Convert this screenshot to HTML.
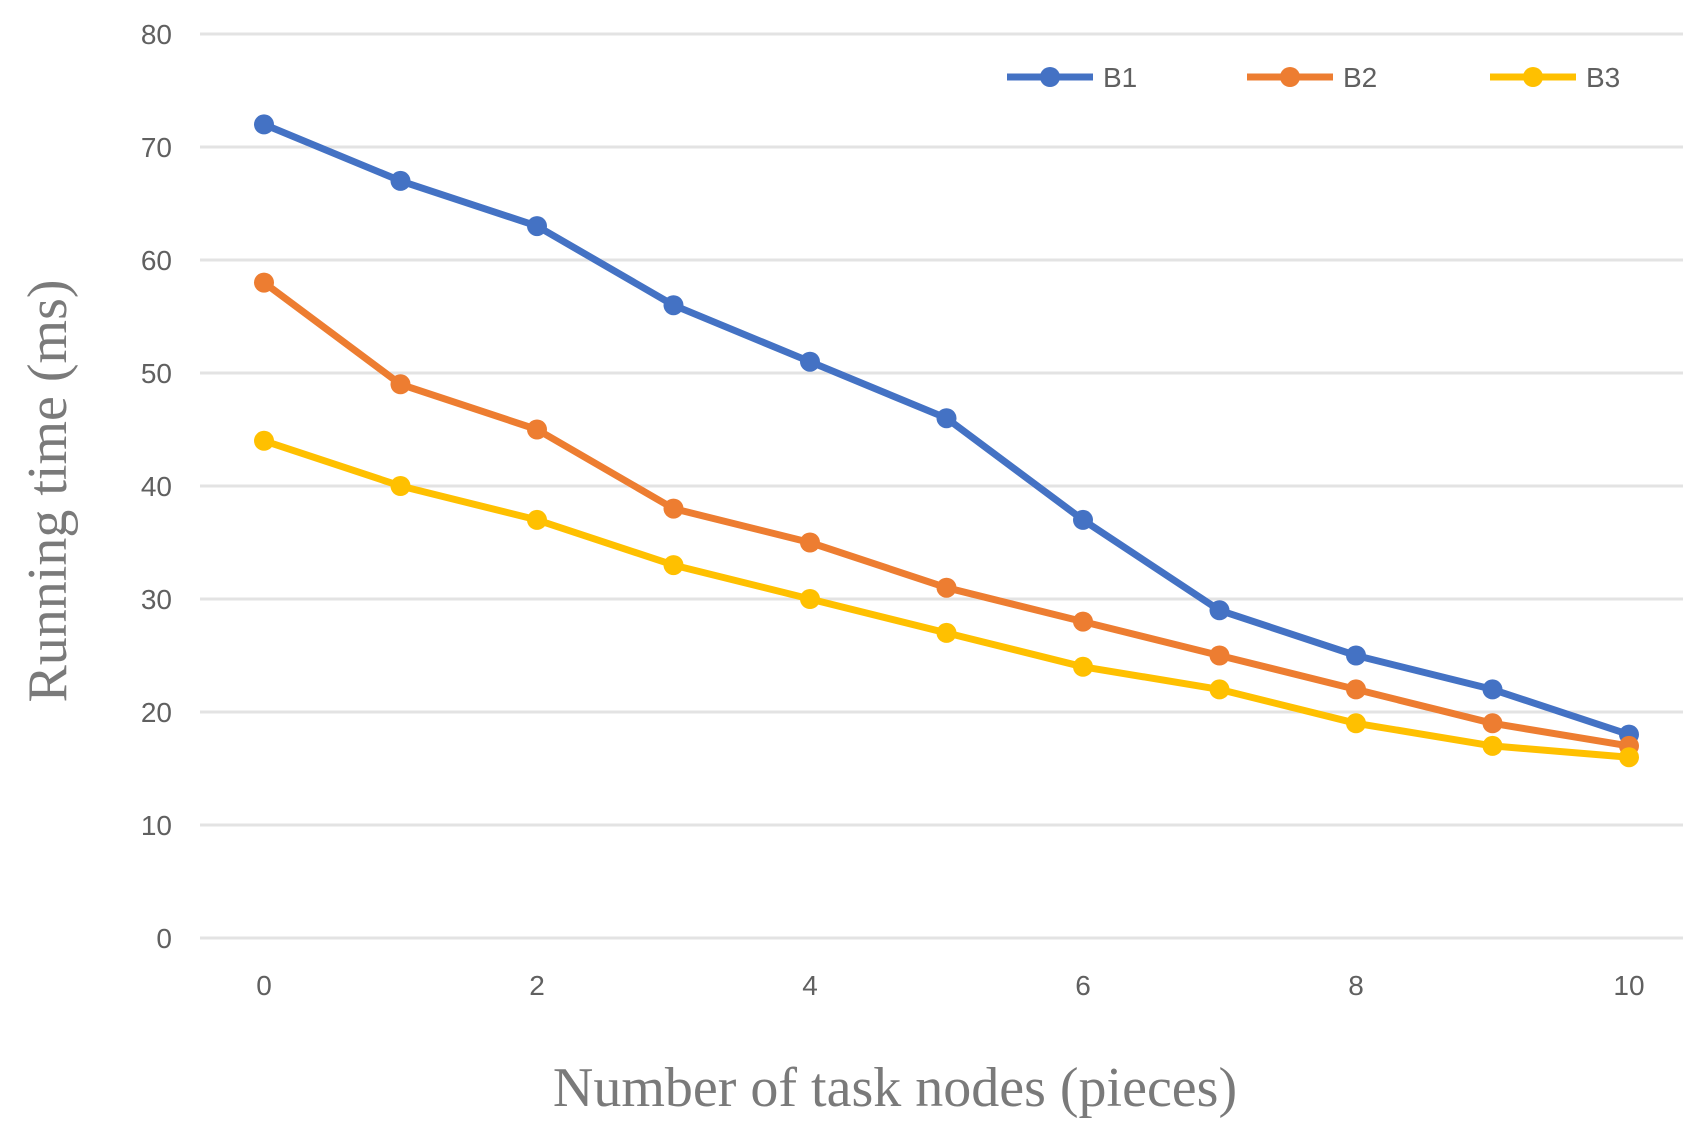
<!DOCTYPE html>
<html><head><meta charset="utf-8"><style>
html,body{margin:0;padding:0;background:#fff;}
svg{display:block;}
</style></head><body>
<svg id="chart" width="1704" height="1134" xmlns="http://www.w3.org/2000/svg">
<g id="grid"></g>
<g id="yticks"></g>
<g id="xticks"></g>
<g id="series"></g>
<g id="legend"></g>
<text x="895" y="1106" text-anchor="middle" font-family="Liberation Serif, serif" font-size="56" fill="#7a7a7a">Number of task nodes (pieces)</text>
<text x="0" y="0" transform="translate(66,491) rotate(-90)" text-anchor="middle" font-family="Liberation Serif, serif" font-size="56" fill="#7a7a7a">Running time (ms)</text>
</svg>
<script>
const xValues=[0,1,2,3,4,5,6,7,8,9,10];
const xTickLabels=[0,2,4,6,8,10];
const yTickLabels=[0,10,20,30,40,50,60,70,80];
const seriesNames=["B1","B2","B3"];
const b1=[72,67,63,56,51,46,37,29,25,22,18];
const b2=[58,49,45,38,35,31,28,25,22,19,17];
const b3=[44,40,37,33,30,27,24,22,19,17,16];
const colors=["#4472c4","#ed7d31","#ffc000"];
const NS="http://www.w3.org/2000/svg";
const X=v=>264+v*136.5;
const Y=v=>938-v*11.3;
function mk(tag,attrs,parent){const e=document.createElementNS(NS,tag);for(const k in attrs)e.setAttribute(k,attrs[k]);parent.appendChild(e);return e;}
const grid=document.getElementById('grid'),yt=document.getElementById('yticks'),xt=document.getElementById('xticks'),ser=document.getElementById('series'),leg=document.getElementById('legend');
yTickLabels.forEach(v=>{
  const l=mk('line',{x1:200,x2:1683,y1:Y(v),y2:Y(v),stroke:'#e3e3e3','stroke-width':3},grid);
  
  
  const t=mk('text',{x:172,y:Y(v)+10,'text-anchor':'end','font-family':'Liberation Sans, sans-serif','font-size':28,fill:'#606060'},yt);
  t.textContent=v;
  
  
});
xTickLabels.forEach(v=>{
  const t=mk('text',{x:X(v),y:995,'text-anchor':'middle','font-family':'Liberation Sans, sans-serif','font-size':28,fill:'#606060'},xt);
  t.textContent=v;
  
  
});
[b1,b2,b3].forEach((data,i)=>{
  const g=mk('g',{},ser);
  
  
  const pts=data.map((v,j)=>X(xValues[j])+','+Y(v)).join(' ');
  const pl=mk('polyline',{points:pts,fill:'none',stroke:colors[i],'stroke-width':7,'stroke-linejoin':'round'},g);
  
  
  data.forEach((v,j)=>{
    const c=mk('circle',{cx:X(xValues[j]),cy:Y(v),r:10,fill:colors[i]},g);
    
    
  });
});
const legX=[1007,1247,1490];
seriesNames.forEach((n,i)=>{
  const g=mk('g',{},leg);
  
  
  mk('line',{x1:legX[i],x2:legX[i]+86,y1:77,y2:77,stroke:colors[i],'stroke-width':7},g);
  mk('circle',{cx:legX[i]+43,cy:77,r:10,fill:colors[i]},g);
  const t=mk('text',{x:legX[i]+96,y:87,'font-family':'Liberation Sans, sans-serif','font-size':28,fill:'#606060'},g);
  t.textContent=n;
});
</script>
</body></html>
